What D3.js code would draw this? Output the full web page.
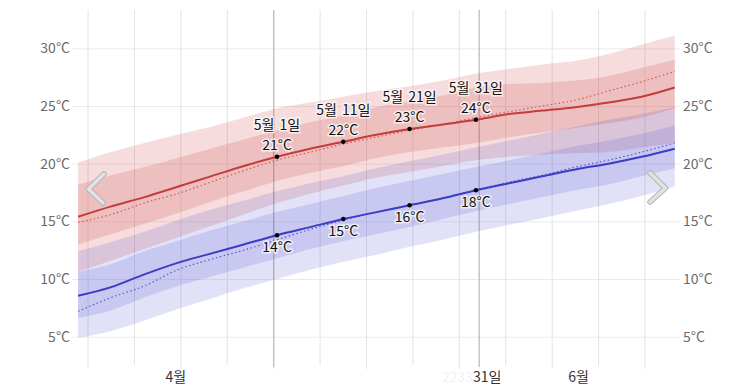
<!DOCTYPE html>
<head>
<meta charset="utf-8">
<style>
body { margin: 0; background: #fff; }
text { font-family: "Noto Sans CJK KR", "Noto Sans", sans-serif; }
.axis text { fill: #6b6b6b; font-size: 14px; }
.axis path { display: none; }
.axis line { stroke: #ebebeb; }
.lbl { font-size: 14px; fill: #111; stroke: #fff; stroke-width: 3px; stroke-opacity: .7; paint-order: stroke; }
.date { word-spacing: 2px; }
</style>
<title>temperature</title>
</head>
<body>
<script src="https://cdn.jsdelivr.net/npm/d3@7"></script>
<script>

var width = 753, height = 387;

// sample days (every 5 days)
var days = ["2023-04-01","2023-04-06","2023-04-11","2023-04-16","2023-04-21","2023-04-26",
            "2023-05-01","2023-05-06","2023-05-11","2023-05-16","2023-05-21","2023-05-26","2023-05-31",
            "2023-06-05","2023-06-10","2023-06-15","2023-06-20","2023-06-25","2023-06-30"];

// daily high
var hiAvg   = [15.4,16.3,17.1,18.0,18.9,19.8,20.6,21.3,21.9,22.5,23.0,23.4,23.8,24.3,24.6,24.9,25.3,25.8,26.6];
var hiTrend = [14.9,15.6,16.6,17.4,18.4,19.4,20.3,21.0,21.7,22.3,22.9,23.4,24.0,24.5,25.0,25.5,26.3,27.1,28.0];
var hiP90   = [20.1,21.0,21.8,22.5,23.2,24.0,24.8,25.3,25.8,26.3,26.7,27.2,27.8,28.2,28.6,28.9,29.5,30.3,31.1];
var hiP75   = [18.2,19.0,19.7,20.5,21.3,22.1,22.9,23.6,24.2,24.9,25.4,25.9,26.6,26.9,27.0,27.2,27.6,28.3,29.0];
var hiP25   = [13.0,13.9,14.8,15.7,16.7,17.6,18.5,19.2,19.8,20.5,21.0,21.4,21.8,22.3,22.7,23.1,23.5,24.0,24.8];
var hiP10   = [10.6,11.6,12.6,13.6,14.6,15.6,16.6,17.4,18.1,18.8,19.3,19.8,20.3,20.6,20.8,20.9,21.0,21.4,21.8];

// daily low
var loAvg   = [8.55,9.3,10.4,11.4,12.2,13.0,13.8,14.5,15.2,15.8,16.4,17.0,17.7,18.3,18.9,19.5,20.0,20.6,21.3];
var loTrend = [7.2,8.4,9.4,10.8,11.7,12.5,13.4,14.3,15.1,15.8,16.4,17.0,17.7,18.4,19.0,19.7,20.3,21.0,21.8];
var loP90   = [12.4,13.2,14.1,15.1,16.0,16.8,17.6,18.3,18.9,19.6,20.2,20.8,21.4,22.0,22.6,23.2,23.8,24.3,24.9];
var loP75   = [10.6,11.3,12.4,13.3,14.2,15.0,15.8,16.5,17.2,17.9,18.5,19.1,19.7,20.3,20.9,21.5,22.0,22.6,23.3];
var loP25   = [6.6,7.3,8.4,9.4,10.2,11.0,11.8,12.6,13.3,13.9,14.5,15.2,15.9,16.5,17.1,17.7,18.2,18.9,19.6];
var loP10   = [4.9,5.5,6.4,7.4,8.3,9.2,10.0,10.8,11.5,12.1,12.8,13.4,14.1,14.7,15.3,15.9,16.5,17.2,18.0];

var markDays = ["2023-05-01","2023-05-11","2023-05-21","2023-05-31"];
var markNames = ["5월 1일","5월 11일","5월 21일","5월 31일"];
var months = ["4월","5월","6월"];
var yTicks = [5,10,15,20,25,30];

var parse = function(s) { var p = s.split("-"); return new Date(Date.UTC(+p[0], +p[1]-1, +p[2], 12)); };

var x = d3.scaleUtc()
    .domain([new Date(Date.UTC(2023,3,1)), new Date(Date.UTC(2023,6,1))])
    .range([74.8, 678.1]);
var y = d3.scaleLinear().domain([5,30]).range([336.7, 48.3]);

var svg = d3.select("body").append("svg")
    .attr("width", width)
    .attr("height", height);

// horizontal grid + y labels
svg.append("g").attr("class","axis")
    .attr("transform","translate(72,0)")
    .call(d3.axisRight(y).tickValues(yTicks).tickSize(608).tickFormat(function(d){ return ""; }));
svg.append("g").attr("class","axis")
    .attr("transform","translate(71,0)")
    .call(d3.axisLeft(y).tickValues(yTicks).tickSize(0).tickPadding(1).tickFormat(function(d){ return d + "°C"; }));
svg.append("g").attr("class","axis")
    .attr("transform","translate(682,0)")
    .call(d3.axisRight(y).tickValues(yTicks).tickSize(0).tickPadding(1).tickFormat(function(d){ return d + "°C"; }));

// weekly verticals (on mondays) and month starts
var weeks = d3.utcWeek.range(new Date(Date.UTC(2023,3,2)), new Date(Date.UTC(2023,6,1)))
  .map(function(d){ return d3.utcDay.offset(d, 1); });
svg.append("g").selectAll("line").data(weeks).enter().append("line")
    .attr("x1", function(d){ return x(d); }).attr("x2", function(d){ return x(d); })
    .attr("y1", 10).attr("y2", function(d,i){ return i % 2 ? 365 : 369; })
    .attr("stroke", "#e3e3e3");
svg.append("g").selectAll("line").data(d3.utcMonth.range(new Date(Date.UTC(2023,3,2)), new Date(Date.UTC(2023,6,1))))
  .enter().append("line")
    .attr("x1", function(d){ return x(d); }).attr("x2", function(d){ return x(d); })
    .attr("y1", 10).attr("y2", 367)
    .attr("stroke", "#bdbdbd").attr("stroke-width", 1.3);

function band(lo, hi) {
  return d3.area()
    .x(function(d,i){ return x(parse(days[i])); })
    .y0(function(d,i){ return y(lo[i]); })
    .y1(function(d,i){ return y(hi[i]); })
    .curve(d3.curveMonotoneX)(days);
}
function line(v) {
  return d3.line()
    .x(function(d,i){ return x(parse(days[i])); })
    .y(function(d,i){ return y(v[i]); })
    .curve(d3.curveMonotoneX)(days);
}

var red = "rgba(205,70,70,0.19)", blue = "rgba(80,80,205,0.17)";
svg.append("path").attr("d", band(hiP10, hiP90)).attr("fill", red);
svg.append("path").attr("d", band(hiP25, hiP75)).attr("fill", red);
svg.append("path").attr("d", band(loP10, loP90)).attr("fill", blue);
svg.append("path").attr("d", band(loP25, loP75)).attr("fill", blue);

svg.append("path").attr("d", line(hiTrend)).attr("fill","none").attr("stroke","#d05a5a")
    .attr("stroke-width",1.2).attr("stroke-dasharray","1.5,2.5");
svg.append("path").attr("d", line(loTrend)).attr("fill","none").attr("stroke","#5a5ad0")
    .attr("stroke-width",1.2).attr("stroke-dasharray","1.5,2.5");
svg.append("path").attr("d", line(hiAvg)).attr("fill","none").attr("stroke","#c43c3c").attr("stroke-width",2);
svg.append("path").attr("d", line(loAvg)).attr("fill","none").attr("stroke","#3c3cc4").attr("stroke-width",2);

// marked days
var marks = svg.append("g").selectAll("g").data(markDays).enter().append("g");
marks.each(function(d,k) {
  var i = days.indexOf(d), g = d3.select(this), px = x(parse(d));
  g.append("circle").attr("cx", px).attr("cy", y(hiAvg[i])).attr("r", 2.3).attr("fill","#000");
  g.append("circle").attr("cx", px).attr("cy", y(loAvg[i])).attr("r", 2.3).attr("fill","#000");
  g.append("text").attr("class","lbl").attr("x", px).attr("y", y(hiAvg[i]) - 7)
    .attr("text-anchor","middle").text(Math.round(hiAvg[i]) + "°C");
  g.append("text").attr("class","lbl date").attr("x", px).attr("y", y(hiAvg[i]) - 27)
    .attr("text-anchor","middle").text(markNames[k]);
  g.append("text").attr("class","lbl").attr("x", px).attr("y", y(loAvg[i]) + 17)
    .attr("text-anchor","middle").text(Math.round(loAvg[i]) + "°C");
});

// x labels
var mids = [new Date(Date.UTC(2023,3,16,6)), null, new Date(Date.UTC(2023,5,16))];
svg.append("g").selectAll("text").data([0,2]).enter().append("text")
    .attr("x", function(d){ return x(mids[d]); }).attr("y", 382)
    .attr("text-anchor","middle").attr("font-size","14px").attr("fill","#333")
    .text(function(d){ return months[d]; });
svg.append("text").attr("x", 473).attr("y", 382).attr("text-anchor","end")
    .attr("font-size","14px").attr("fill","#000").attr("fill-opacity",0.08).text("2233");
svg.append("text").attr("x", x(parse("2023-05-31")) - 3).attr("y", 382)
    .attr("font-size","14px").attr("fill","#333").text("31일");

// arrows
function chevron(pts) {
  var p = "M" + pts.join("L");
  svg.append("path").attr("d", p).attr("fill","none").attr("stroke","#b5b5b5")
    .attr("stroke-width",5.5).attr("stroke-linecap","round").attr("stroke-linejoin","round");
  svg.append("path").attr("d", p).attr("fill","none").attr("stroke","#e2e2e2")
    .attr("stroke-width",3.5).attr("stroke-linecap","round").attr("stroke-linejoin","round");
}
chevron([[104,174],[88.5,189],[103,203]]);
chevron([[650,173],[665.5,188],[650,202]]);

</script>
</body>
